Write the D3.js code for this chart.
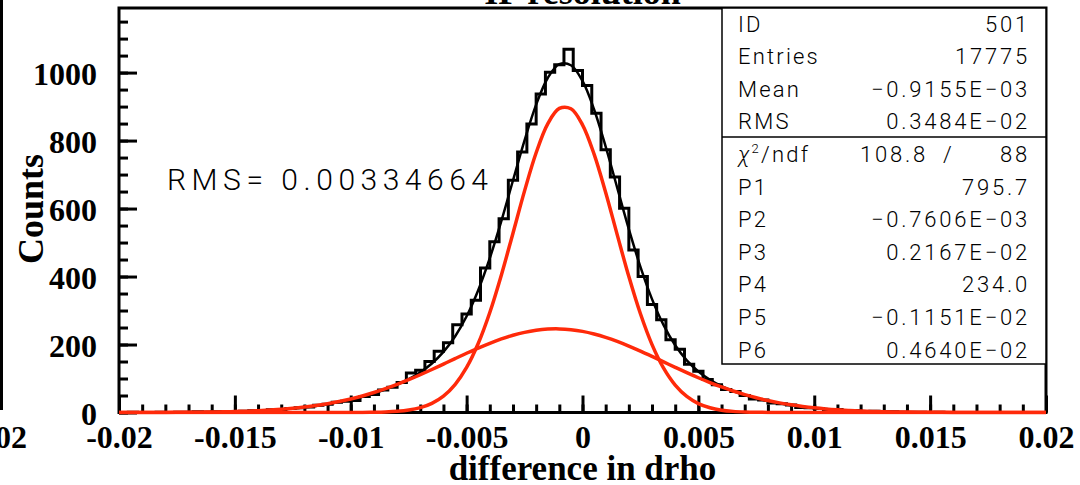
<!DOCTYPE html>
<html>
<head>
<meta charset="utf-8">
<script src="https://cdn.jsdelivr.net/npm/d3@7"></script>
<style>
body { margin: 0; background: #fff; }
.serif { font-family: 'Liberation Serif', 'Times New Roman', serif; font-weight: bold; }
.stat { font-family: Roboto, 'DejaVu Sans', sans-serif; font-weight: 300; }
</style>
</head>
<body>
<script>
// histogram: 100 bins, -0.02 .. 0.02
var binCounts = [
	0, 1, 0, 0, 1, 0, 1, 1, 2, 1,
	2, 3, 2, 4, 5, 4, 8, 7, 12, 14,
	16, 21, 24, 30, 33, 35, 47, 53, 66, 74,
	88, 116, 124, 150, 180, 205, 258, 290, 330, 425,
	502, 570, 683, 766, 849, 937, 1001, 1023, 1069, 1006,
	962, 880, 773, 693, 601, 478, 400, 318, 273, 214,
	186, 142, 121, 97, 82, 68, 62, 50, 40, 37,
	28, 26, 22, 15, 14, 12, 8, 9, 5, 6,
	3, 4, 2, 2, 1, 1, 1, 0, 1, 0,
	0, 0, 0, 0, 0, 0, 0, 0, 0, 0
];

// curves read at every 0.0005 from -0.02 to 0.02
var fitTotal = [
	0.06, 0.1, 0.14, 0.22, 0.32, 0.47, 0.68, 0.98, 1.4, 1.96,
	2.72, 3.7, 5.0, 6.8, 8.9, 11.7, 15.2, 19.4, 24.6, 30.8,
	38.0, 46.5, 56.5, 68.1, 81.7, 98.0, 118.3, 144.2, 178.2, 223.6,
	283.1, 359.8, 454.0, 563.7, 682.6, 800.7, 905.6, 984.0, 1024.7, 1021.6,
	975.3, 891.5, 782.4, 660.7, 539.3, 428.4, 333.5, 256.9, 197.7, 153.3,
	120.5, 96.1, 77.5, 63.0, 51.3, 41.8, 33.7, 27.0, 21.4, 16.8,
	13.0, 10.0, 7.6, 5.7, 4.2, 3.1, 2.2, 1.6, 1.1, 0.8,
	0.55, 0.37, 0.26, 0.17, 0.11, 0.08, 0.05, 0.03, 0.02, 0.01,
	0.01
];
var fitNarrow = [
	0, 0, 0, 0, 0, 0, 0, 0, 0, 0,
	0, 0, 0, 0, 0, 0, 0, 0, 0, 0,
	0.1, 0.26, 0.65, 1.5, 3.4, 7.1, 14.2, 27.0, 48.3, 82.3,
	132.7, 203.0, 294.3, 404.8, 527.6, 652.0, 764.1, 849.1, 894.5, 893.5,
	846.4, 760.0, 647.2, 522.5, 399.9, 290.4, 199.8, 130.4, 80.6, 47.3,
	26.3, 13.9, 6.9, 3.3, 1.5, 0.6, 0.3, 0.1, 0, 0,
	0, 0, 0, 0, 0, 0, 0, 0, 0, 0,
	0, 0, 0, 0, 0, 0, 0, 0, 0, 0,
	0
];
var fitBroad = [
	0.06, 0.1, 0.15, 0.23, 0.34, 0.49, 0.72, 1.03, 1.47, 2.06,
	2.86, 3.9, 5.3, 7.1, 9.4, 12.3, 16.0, 20.4, 25.9, 32.3,
	39.9, 48.7, 58.8, 70.2, 82.7, 96.4, 111.1, 126.5, 142.5, 158.5,
	174.3, 189.6, 203.7, 216.4, 227.2, 235.8, 241.9, 245.3, 245.9, 243.6,
	238.6, 230.9, 221.0, 209.0, 195.3, 180.5, 164.9, 148.9, 132.9, 117.2,
	102.2, 88.1, 75.1, 63.2, 52.6, 43.3, 35.2, 28.3, 22.5, 17.7,
	13.7, 10.5, 8.0, 6.0, 4.4, 3.25, 2.35, 1.68, 1.19, 0.83,
	0.58, 0.39, 0.27, 0.18, 0.12, 0.08, 0.05, 0.03, 0.02, 0.01,
	0.01
];

var xTickValues = [-0.02, -0.015, -0.01, -0.005, 0, 0.005, 0.01, 0.015, 0.02];
var xTickLabels = ['-0.02', '-0.015', '-0.01', '-0.005', '0', '0.005', '0.01', '0.015', '0.02'];
var yTickValues = [0, 200, 400, 600, 800, 1000];

var statNames = ['ID', 'Entries', 'Mean', 'RMS'];
var statValues = ['501', '17775', '\u22120.9155E\u221203', '0.3484E\u221202'];
var chiValues = ['108.8', '/', '88'];
var parNames = ['P1', 'P2', 'P3', 'P4', 'P5', 'P6'];
var parValues = ['795.7', '\u22120.7606E\u221203', '0.2167E\u221202', '234.0', '\u22120.1151E\u221202', '0.4640E\u221202'];


var margin = {top: 8, right: 34, bottom: 72.5, left: 119};
var width = 1080 - margin.left - margin.right,
	height = 485 - margin.top - margin.bottom;

var x = d3.scaleLinear().domain([-0.02, 0.02]).range([0, width]),
	y = d3.scaleLinear().domain([0, 1190]).range([height, 0]);

var root = d3.select('body').append('svg')
	.attr('width', 1080)
	.attr('height', 485);

var svg = root.append('g')
	.attr('transform', 'translate(' + margin.left + ',' + margin.top + ')');

// leftover of the neighbouring pad
root.append('line')
	.attr('x1', 1.5).attr('x2', 1.5)
	.attr('y1', 0).attr('y2', 410)
	.style('stroke', '#000').style('stroke-width', 3);
root.append('text')
	.attr('class', 'serif')
	.attr('x', 27).attr('y', 448)
	.attr('text-anchor', 'end')
	.style('font-size', '32px')
	.text('0.02');

// title (cut by the top edge)
root.append('text')
	.attr('class', 'serif')
	.attr('x', margin.left + x(0)).attr('y', 4)
	.attr('text-anchor', 'middle')
	.style('font-size', '36px')
	.text('IP resolution');

svg.append('defs').append('clipPath')
	.attr('id', 'clip')
	.append('rect')
	.attr('x', 0).attr('y', -2)
	.attr('width', width).attr('height', height + 4);

// ticks
var yAx = svg.append('g').call(d3.axisRight(y).tickValues(yTickValues).tickSize(18).tickFormat(''));
var yAxMin = svg.append('g').call(d3.axisRight(y).tickValues(d3.range(0, 1190, 50)).tickSize(9).tickFormat(''));
var xAx = svg.append('g').attr('transform', 'translate(0,' + height + ')')
	.call(d3.axisTop(x).tickValues(xTickValues).tickSize(17).tickFormat(''));
var xAxMin = svg.append('g').attr('transform', 'translate(0,' + height + ')')
	.call(d3.axisTop(x).tickValues(d3.range(-20, 21).map(function(d) { return d / 1000; })).tickSize(8).tickFormat(''));

[yAx, yAxMin, xAx, xAxMin].forEach(function(g) {
	g.select('.domain').remove();
	g.selectAll('line').style('stroke', '#000').style('stroke-width', 3);
});

// tick labels
var yLab = svg.append('g').call(d3.axisLeft(y).tickValues(yTickValues).tickSize(0).tickPadding(22)
	.tickFormat(d3.format('d')));
yLab.select('.domain').remove();
yLab.attr('class', 'serif').attr('font-size', 32).attr('font-family', null);
yLab.selectAll('text').attr('dy', '0.36em');

var xLab = svg.append('g').attr('transform', 'translate(0,' + height + ')')
	.call(d3.axisBottom(x).tickValues(xTickValues).tickSize(0).tickPadding(13)
		.tickFormat(function(d, i) { return xTickLabels[i]; }));
xLab.select('.domain').remove();
xLab.attr('class', 'serif').attr('font-size', 32).attr('font-family', null);

// axis titles
svg.append('text')
	.attr('class', 'serif')
	.attr('x', x(0)).attr('y', height + 67.5)
	.attr('text-anchor', 'middle')
	.style('font-size', '35px')
	.text('difference in drho');

root.append('text')
	.attr('class', 'serif')
	.attr('transform', 'translate(43,209) rotate(-90)')
	.attr('text-anchor', 'middle')
	.style('font-size', '36px')
	.text('Counts');

// frame
svg.append('rect')
	.attr('x', 0).attr('y', 0)
	.attr('width', width).attr('height', height)
	.style('fill', 'none')
	.style('stroke', '#000')
	.style('stroke-width', 3);

// histogram outline
var binW = 0.04 / binCounts.length;
var steps = binCounts.map(function(c, i) { return [-0.02 + i * binW, c]; });
steps.push([0.02, binCounts[binCounts.length - 1]]);

var stepLine = d3.line()
	.curve(d3.curveStepAfter)
	.x(function(d) { return x(d[0]); })
	.y(function(d) { return y(d[1]); });

var plot = svg.append('g').attr('clip-path', 'url(#clip)');

plot.append('path')
	.datum(steps)
	.attr('d', stepLine)
	.style('fill', 'none')
	.style('stroke', '#000')
	.style('stroke-width', 3);

// fit curves
var grid = d3.range(81).map(function(i) { return -0.02 + i * 0.0005; });
var smooth = d3.line()
	.curve(d3.curveCatmullRom.alpha(0.5))
	.x(function(d, i) { return x(grid[i]); })
	.y(function(d) { return y(Math.max(0, d)); });

plot.append('path')
	.datum(fitTotal)
	.attr('d', smooth)
	.style('fill', 'none')
	.style('stroke', '#000')
	.style('stroke-width', 2.5);

[fitNarrow, fitBroad].forEach(function(c) {
	plot.append('path')
		.datum(c)
		.attr('d', smooth)
		.style('fill', 'none')
		.style('stroke', '#ff2a0a')
		.style('stroke-width', 3.5);
});

// RMS note
root.append('text')
	.attr('class', 'stat')
	.attr('x', 167).attr('y', 190)
	.attr('textLength', 321)
	.attr('lengthAdjust', 'spacing')
	.style('font-size', '30px')
	.text('RMS= 0.00334664');

// stats box
var box = root.append('g');
box.append('rect')
	.attr('x', 722).attr('y', 8)
	.attr('width', 324).attr('height', 356)
	.style('fill', '#fff')
	.style('stroke', '#000')
	.style('stroke-width', 1.5);
box.append('line')
	.attr('x1', 722).attr('x2', 1046)
	.attr('y1', 137).attr('y2', 137)
	.style('stroke', '#000').style('stroke-width', 1.5);

var rowY = function(i) { return 31.5 + i * 32.6; };
var rows = [];
statNames.forEach(function(n, i) { rows.push([n, statValues[i]]); });
rows.push(null);
parNames.forEach(function(n, i) { rows.push([n, parValues[i]]); });

rows.forEach(function(r, i) {
	if (!r) return;
	box.append('text').attr('class', 'stat')
		.attr('x', 738).attr('y', rowY(i))
		.style('font-size', '22px').style('letter-spacing', '2.2px')
		.text(r[0]);
	box.append('text').attr('class', 'stat')
		.attr('x', 1030).attr('y', rowY(i))
		.attr('text-anchor', 'end')
		.style('font-size', '22px').style('letter-spacing', '2.8px')
		.text(r[1]);
});

var chi = box.append('text').attr('class', 'stat')
	.attr('x', 738).attr('y', rowY(4))
	.style('font-size', '22px').style('letter-spacing', '2.2px');
chi.append('tspan').style('font-style', 'italic').text('\u03c7');
chi.append('tspan').attr('dy', -9).style('font-size', '13px').text('2');
chi.append('tspan').attr('dy', 9).text('/ndf');

box.append('text').attr('class', 'stat')
	.attr('x', 860).attr('y', rowY(4))
	.style('font-size', '22px').style('letter-spacing', '2.8px')
	.text(chiValues[0]);
box.append('text').attr('class', 'stat')
	.attr('x', 943).attr('y', rowY(4))
	.style('font-size', '22px')
	.text(chiValues[1]);
box.append('text').attr('class', 'stat')
	.attr('x', 1030).attr('y', rowY(4))
	.attr('text-anchor', 'end')
	.style('font-size', '22px').style('letter-spacing', '2.8px')
	.text(chiValues[2]);
</script>
</body>
</html>
